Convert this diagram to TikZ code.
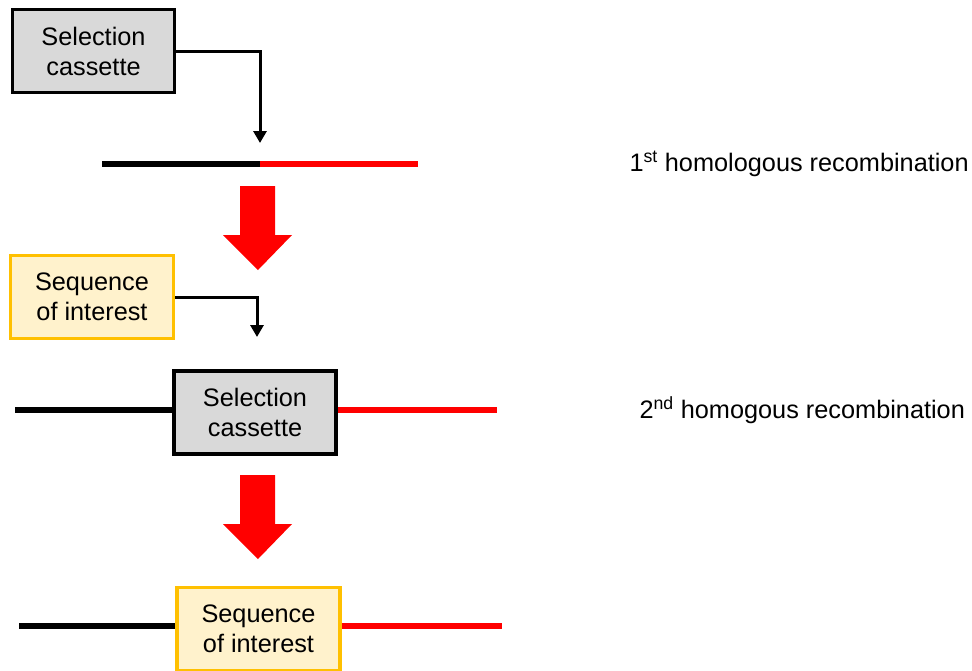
\documentclass[tikz,border=0pt]{standalone}
\usepackage{fontspec}
\setmainfont{Liberation Sans}
\usetikzlibrary{arrows.meta}
\definecolor{boxgray}{HTML}{D9D9D9}
\definecolor{seqfill}{HTML}{FFF2CC}
\definecolor{seqborder}{HTML}{FFC000}
\definecolor{redcol}{HTML}{FF0000}
\tikzset{
  lbl/.style={font=\fontsize{25.3}{30}\selectfont, text=black},
  selbox/.style={lbl, draw=black, fill=boxgray, line width=3.5pt, minimum width=162pt, minimum height=83pt, align=center, inner sep=0pt},
  seqbox/.style={lbl, draw=seqborder, fill=seqfill, line width=3.5pt, minimum width=163pt, minimum height=83pt, align=center, inner sep=0pt},
  dnablack/.style={line width=6.5pt, draw=black},
  dnaredline/.style={line width=6.5pt, draw=redcol},
  linkarrow/.style={draw=black, line width=3pt, -{Triangle[length=12pt,width=13pt]}},
  bigarrow/.pic={\fill[redcol] (-18,-42) -- (17,-42) -- (17,7) -- (34,7) -- (0,42) -- (-35,7) -- (-18,7) -- cycle;}
}
\begin{document}
\begin{tikzpicture}[x=1pt,y=-1pt]
\useasboundingbox (0,0) rectangle (972,670);
% top selection cassette
\node[selbox] (b1) at (93.5,51) {Selection\\cassette};
\coordinate (t1) at (260,143);
\draw[linkarrow] (b1.east) -| (t1);
\coordinate (l1a) at (102,164);
\coordinate (l1m) at (260,164);
\coordinate (l1b) at (418,164);
\draw[dnablack] (l1a) -- (l1m);
\draw[dnaredline] (l1m) -- (l1b);
\node[lbl, anchor=west] (h1) at (626,164) {1\textsuperscript{st} homologous recombination};
% arrow 1
\pic at (258,228) {bigarrow};
% sequence of interest
\node[seqbox] (b2) at (92,297) {Sequence\\of interest};
\coordinate (t2) at (257,337);
\draw[linkarrow] (b2.east) -| (t2);
% second line
\node[selbox] (b3) at (255,412.5) {Selection\\cassette};
\coordinate (l2a) at (15,410);
\coordinate (l2b) at (497,410);
\draw[dnablack] (l2a) -- (b3.west |- l2a);
\draw[dnaredline] (b3.east |- l2b) -- (l2b);
\node[lbl, anchor=west] (h2) at (636,410) {2\textsuperscript{nd} homogous recombination};
% arrow 2
\pic at (258,517) {bigarrow};
% bottom
\node[seqbox] (b4) at (258.5,629) {Sequence\\of interest};
\coordinate (l3a) at (19,626);
\coordinate (l3b) at (502,626);
\draw[dnablack] (l3a) -- (b4.west |- l3a);
\draw[dnaredline] (b4.east |- l3b) -- (l3b);
\end{tikzpicture}
\end{document}
